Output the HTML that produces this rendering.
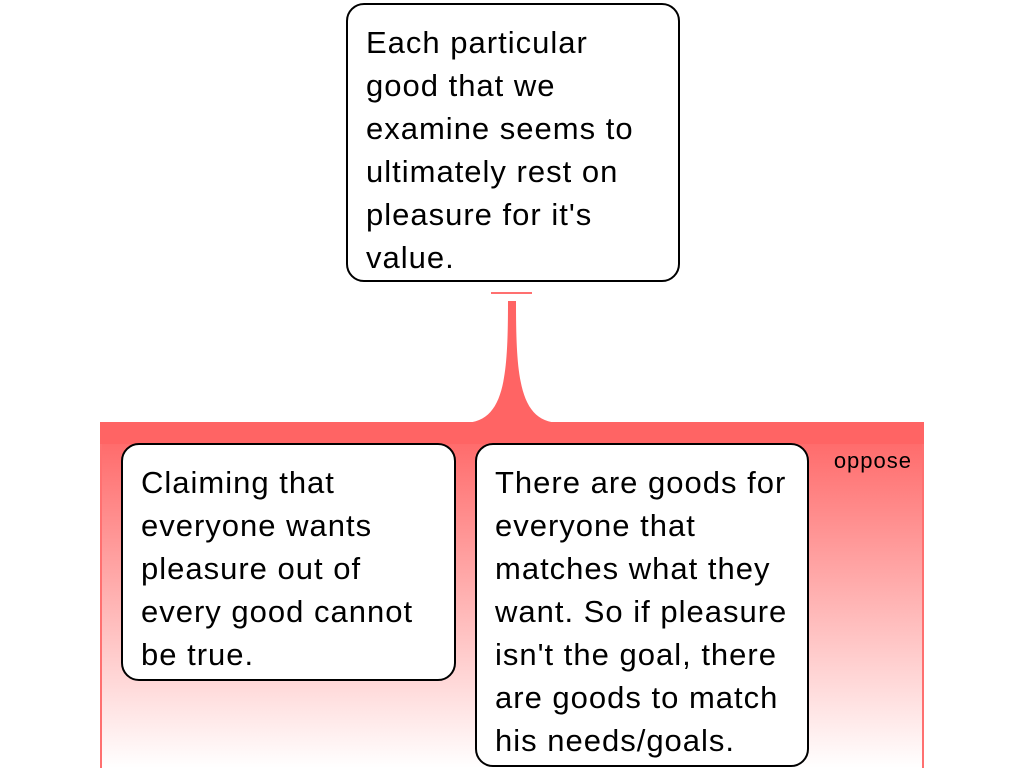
<!DOCTYPE html>
<html><head><meta charset="utf-8"><style>
html,body{margin:0;padding:0;width:1024px;height:768px;overflow:hidden;background:#fff;font-family:"Liberation Sans",sans-serif;}
.box{position:absolute;box-sizing:border-box;border:2px solid #000;border-radius:18px;background:#fff;font-size:31px;line-height:43px;color:#000;padding:16px 0 0 18px;letter-spacing:1px;white-space:nowrap;}
</style></head><body>
<svg width="1024" height="768" style="position:absolute;left:0;top:0">
<defs><linearGradient id="g" x1="0" y1="0" x2="0" y2="1">
<stop offset="0" stop-color="#ff6262"/><stop offset="1" stop-color="#ffffff"/></linearGradient></defs>
<rect x="100" y="422" width="824" height="346" fill="url(#g)"/>
<rect x="100" y="422" width="2" height="346" fill="#ff7070"/>
<rect x="922" y="422" width="2" height="346" fill="#ff7070"/>
<rect x="100" y="422" width="824" height="22" fill="#ff6464"/>
<path d="M508,301 L516,301 C516,380 520,422 560,423 L464,423 C504,422 508,380 508,301 Z" fill="#ff6464"/>
<rect x="491" y="292" width="41" height="2" fill="#ff7070"/>
<text x="912" y="468" font-family="Liberation Sans" font-size="22" letter-spacing="1" text-anchor="end" fill="#000">oppose</text>
</svg>
<div class="box" style="left:346px;top:3px;width:334px;height:279px;">Each particular<br>good that we<br>examine seems to<br>ultimately rest on<br>pleasure for it's<br>value.</div>
<div class="box" style="left:121px;top:443px;width:335px;height:238px;">Claiming that<br>everyone wants<br>pleasure out of<br>every good cannot<br>be true.</div>
<div class="box" style="left:475px;top:443px;width:334px;height:324px;">There are goods for<br>everyone that<br>matches what they<br>want. So if pleasure<br>isn't the goal, there<br>are goods to match<br>his needs/goals.</div>
</body></html>
